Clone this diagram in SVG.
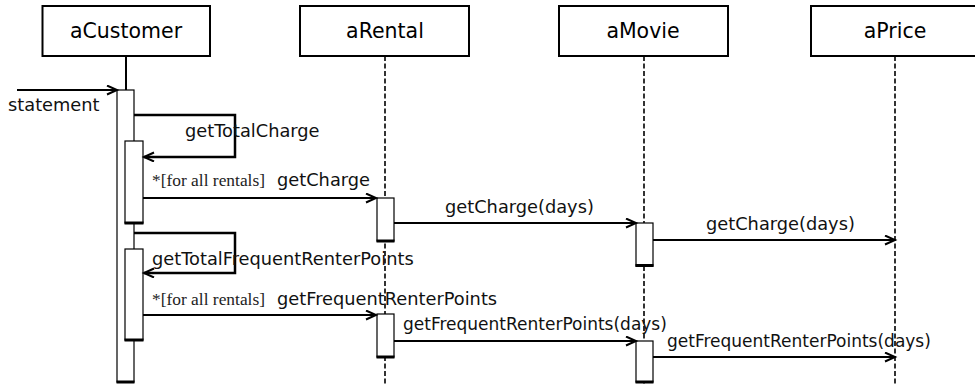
<svg xmlns="http://www.w3.org/2000/svg" width="975" height="385" viewBox="0 0 975 385">
<style>
.box{fill:#fff;stroke:#000;stroke-width:2}
.hd{font-family:"DejaVu Sans",Verdana,sans-serif;font-size:20.5px;fill:#000;text-anchor:middle}
.lb{font-family:"DejaVu Sans",Verdana,sans-serif;font-size:17.8px;fill:#111}
.sm{font-size:17px}
.cond{font-family:"Liberation Serif","Times New Roman",serif;font-size:17.4px;fill:#222}
.life{stroke:#000;stroke-width:1.6;stroke-dasharray:5,2.5;fill:none}
.bar{fill:#fff;stroke:#000;stroke-width:1.2}
.bot{stroke:#000;stroke-width:3}
.msg{stroke:#000;stroke-width:2;fill:none;marker-end:url(#arr)}
.self{stroke:#000;stroke-width:2.5;fill:none;marker-end:url(#arr)}
</style>
<defs>
<marker id="arr" markerUnits="userSpaceOnUse" markerWidth="14" markerHeight="12" refX="11" refY="5" orient="auto">
<path d="M1,0.5 L11,5 L1,9.5" fill="none" stroke="#000" stroke-width="2"/>
</marker>
</defs>
<rect width="975" height="385" fill="#fff"/>

<g id="aCustomer">
<rect class="box" x="42.5" y="6" width="167.5" height="50"/>
<text class="hd" x="126" y="38">aCustomer</text>
<line x1="126" y1="56" x2="126" y2="90" stroke="#000" stroke-width="2"/>
<rect class="bar" x="117" y="90" width="17" height="292"/>
<line class="bot" x1="116.5" y1="382" x2="134.5" y2="382"/>
<rect class="bar" x="125" y="141" width="18" height="82"/>
<line class="bot" x1="124.5" y1="223" x2="143.5" y2="223"/>
<rect class="bar" x="125" y="249" width="18" height="91"/>
<line class="bot" x1="124.5" y1="340" x2="143.5" y2="340"/>
</g>

<g id="aRental">
<rect class="box" x="300" y="6" width="169" height="50"/>
<text class="hd" x="385" y="38">aRental</text>
<line class="life" x1="385" y1="56" x2="385" y2="385"/>
<rect class="bar" x="377" y="198" width="17" height="43"/>
<line class="bot" x1="376.5" y1="241" x2="394.5" y2="241"/>
<rect class="bar" x="377" y="314" width="17" height="43"/>
<line class="bot" x1="376.5" y1="357" x2="394.5" y2="357"/>
</g>

<g id="aMovie">
<rect class="box" x="559" y="6" width="169" height="50"/>
<text class="hd" x="643" y="38">aMovie</text>
<line class="life" x1="644" y1="56" x2="644" y2="385"/>
<rect class="bar" x="636" y="223" width="17" height="43"/>
<line class="bot" x1="635.5" y1="265.5" x2="653.5" y2="265.5"/>
<rect class="bar" x="636" y="341" width="17" height="41"/>
<line class="bot" x1="635.5" y1="382" x2="653.5" y2="382"/>
</g>

<g id="aPrice">
<rect class="box" x="811" y="6" width="175" height="50"/>
<text class="hd" x="895" y="38">aPrice</text>
<line class="life" x1="895" y1="56" x2="895" y2="385"/>
</g>

<g id="connectors">
<line class="msg" x1="17" y1="90" x2="117" y2="90"/>
<text class="lb" x="8" y="111">statement</text>

<polyline class="self" points="134,115 235,115 235,157 144,157"/>
<text class="lb" x="185" y="137">getTotalCharge</text>

<line class="msg" x1="143" y1="198" x2="376" y2="198"/>
<text class="cond" x="152" y="186">*[for all rentals]</text>
<text class="lb" x="277" y="186">getCharge</text>

<line class="msg" x1="394" y1="223" x2="636" y2="223"/>
<text class="lb" x="445" y="213">getCharge(days)</text>

<line class="msg" x1="653" y1="240" x2="895" y2="240"/>
<text class="lb" x="706" y="230">getCharge(days)</text>

<polyline class="self" points="134,233 235,233 235,273 144,273"/>
<text class="lb" x="152" y="265">getTotalFrequentRenterPoints</text>

<line class="msg" x1="143" y1="315" x2="376" y2="315"/>
<text class="cond" x="152" y="305">*[for all rentals]</text>
<text class="lb" x="277" y="305">getFrequentRenterPoints</text>

<line class="msg" x1="394" y1="341" x2="636" y2="341"/>
<text class="lb sm" x="403" y="330">getFrequentRenterPoints(days)</text>

<line class="msg" x1="653" y1="357" x2="895" y2="357"/>
<text class="lb sm" x="667" y="347">getFrequentRenterPoints(days)</text>
</g>
</svg>
